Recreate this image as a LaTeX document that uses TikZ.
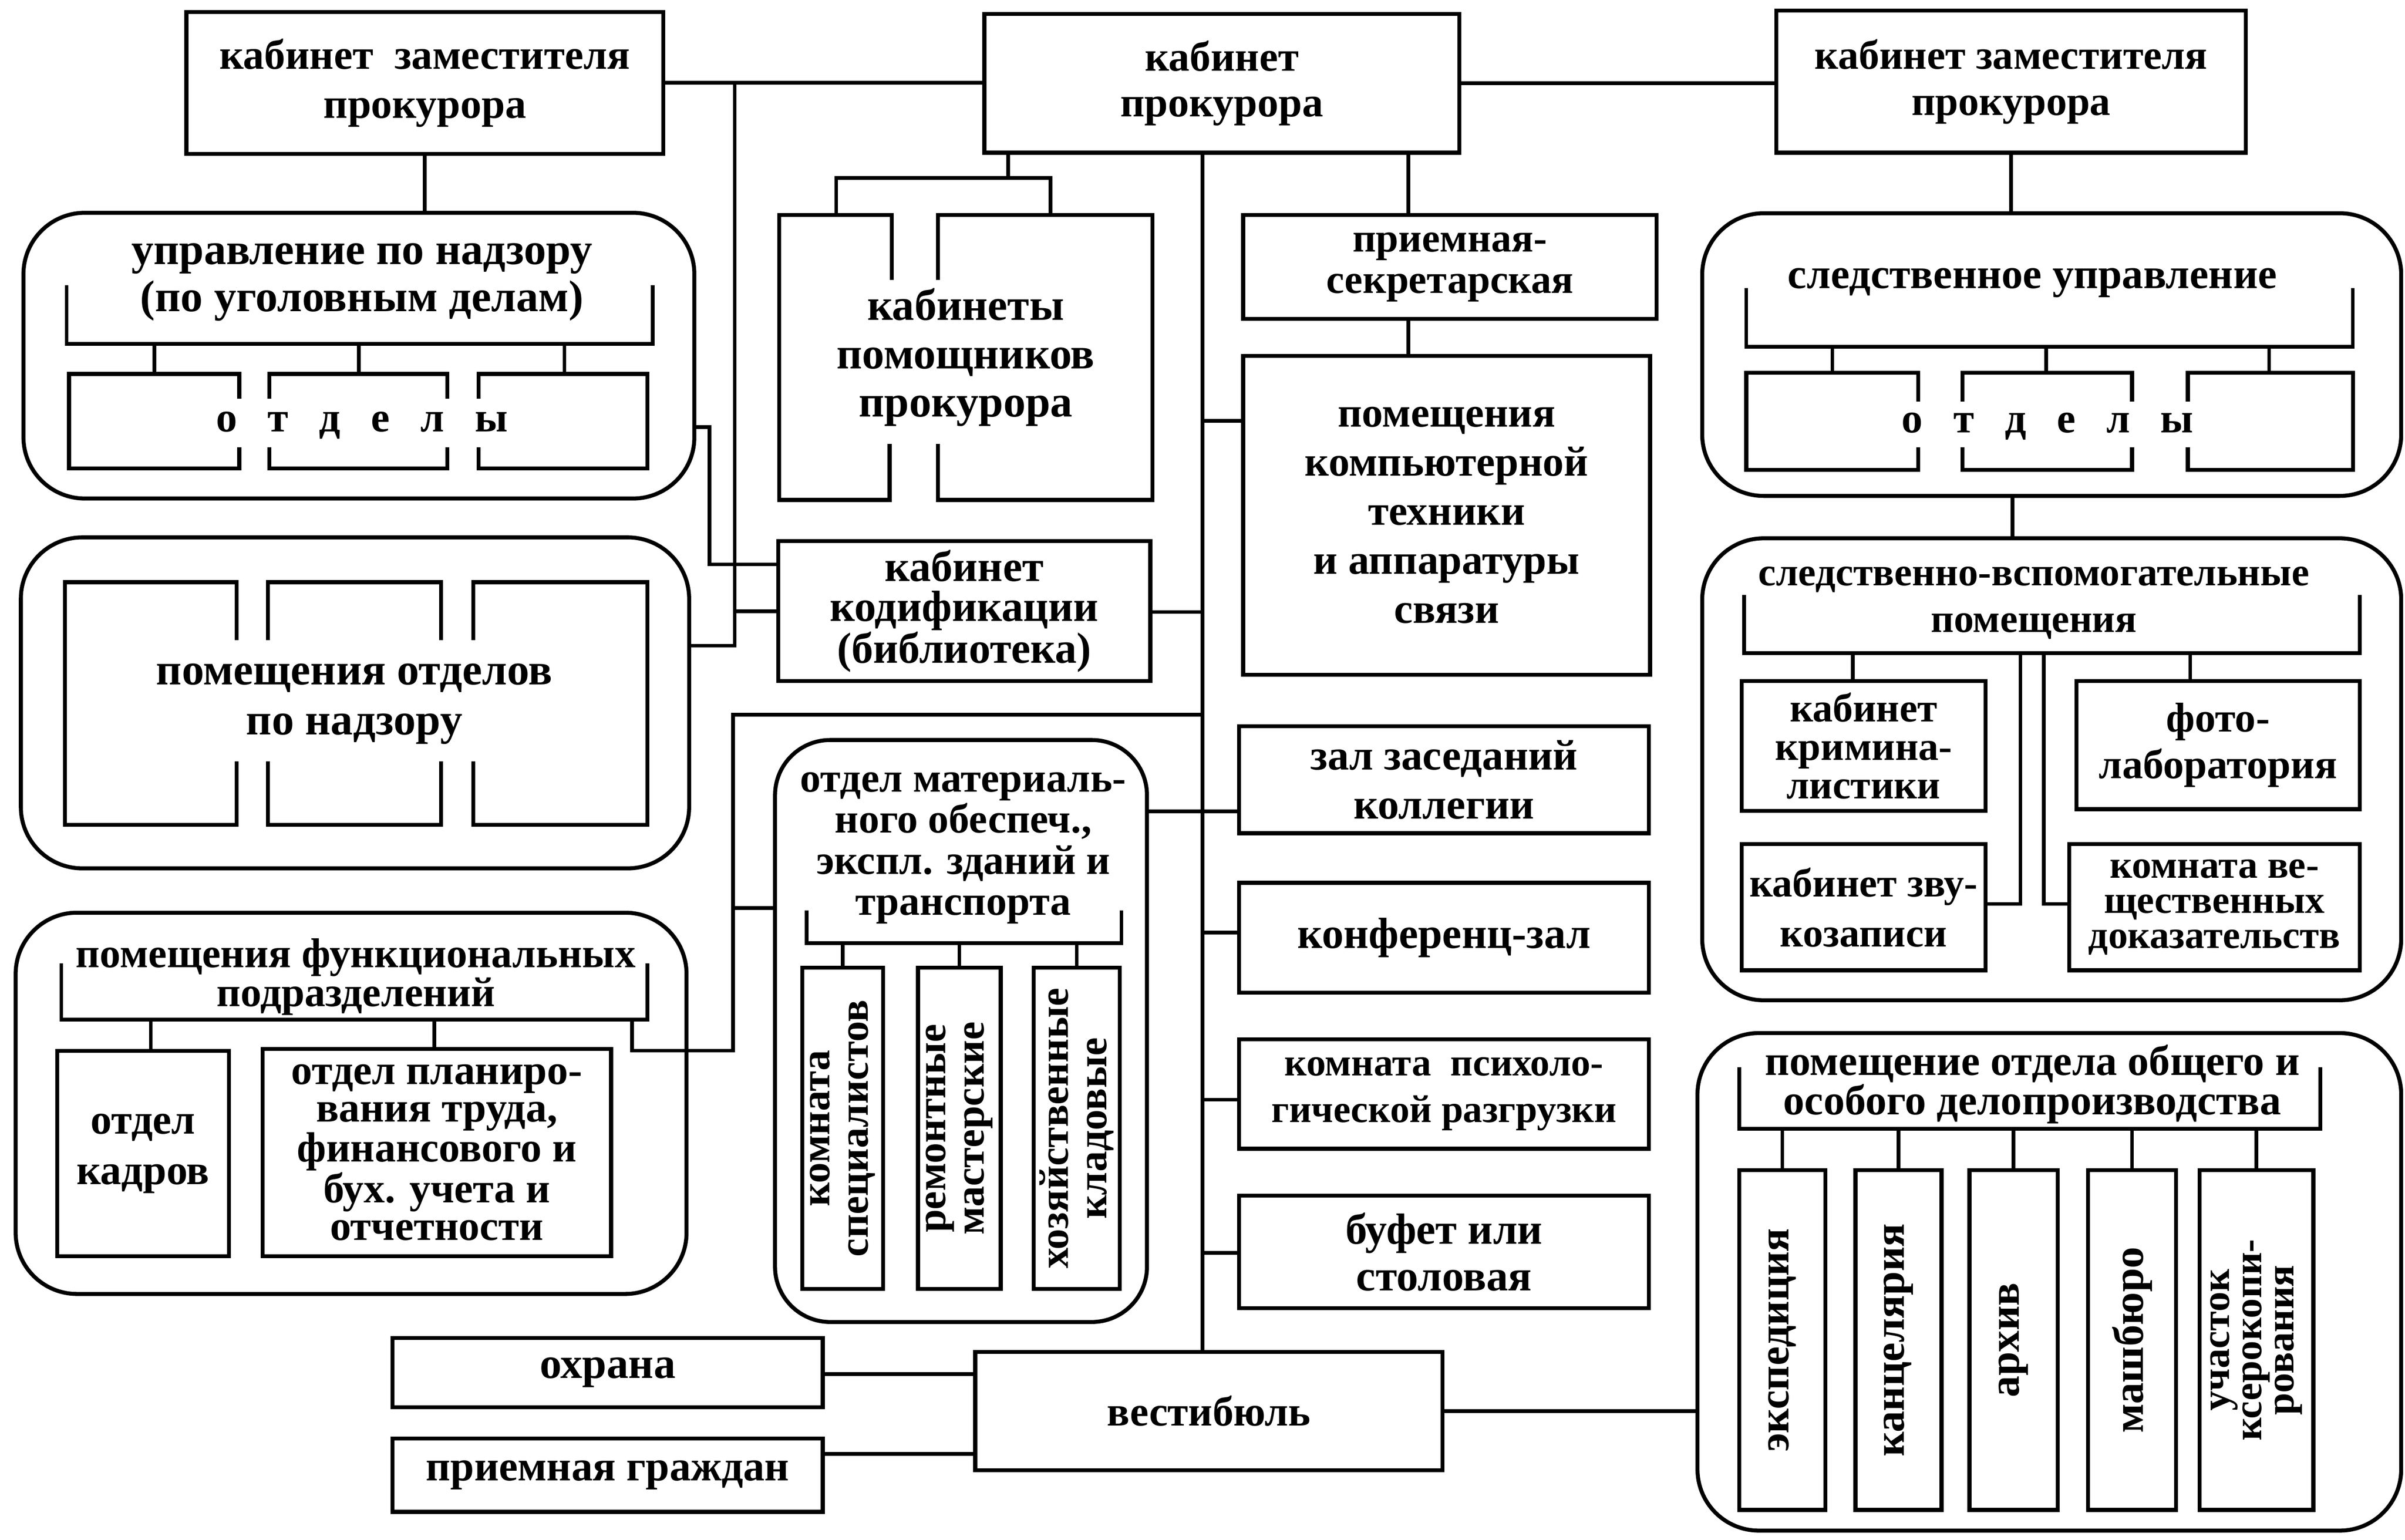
\documentclass[tikz,border=0pt]{standalone}
\usepackage{fontspec}
\setmainfont{Liberation Serif}
\newcommand\fs[2]{\fontsize{#1}{#2}\selectfont\bfseries}
\tikzset{
  box/.style={draw, line width=2.6pt, inner sep=0pt, outer sep=0pt, align=center, font=\fs{27.5}{32}},
  rbox/.style={draw, line width=2.6pt, rounded corners=40pt, inner sep=0pt, outer sep=0pt},
  lbl/.style={inner sep=0pt, outer sep=0pt, align=center, font=\fs{27.5}{32}},
  ln/.style={line width=2.6pt},
  con/.style={line width=2.4pt},
}
\begin{document}
\begin{tikzpicture}[x=1pt,y=-1pt]
\fill[white] (0,0) rectangle (1568,1004);
\useasboundingbox (0,0) rectangle (1568,1004);

% ---------- top row
\node[box, minimum width=311pt, minimum height=92.5pt, font=\fs{27.5}{32}] (zl) at (277,54) {кабинет\ \ заместителя\\прокурора};
\node[box, minimum width=309.7pt, minimum height=90.5pt, font=\fs{27.5}{30}] (kp) at (796.6,54.3) {кабинет\\прокурора};
\node[box, minimum width=306pt, minimum height=92.7pt, font=\fs{27}{30}] (zr) at (1311.2,53.2) {кабинет заместителя\\прокурора};

% ---------- rounded containers
\node[rbox, minimum width=437.4pt, minimum height=186.3pt] (upr) at (234,231.9) {};
\node[rbox, minimum width=435.7pt, minimum height=215.8pt] (pon) at (231.45,458.3) {};
\node[rbox, minimum width=437.4pt, minimum height=248.6pt] (fun) at (228.9,719.4) {};
\node[rbox, rounded corners=36pt, minimum width=242.5pt, minimum height=379.5pt] (mat) at (626.55,672.25) {};
\node[rbox, minimum width=455.7pt, minimum height=184.3pt] (slr) at (1337.65,231.2) {};
\node[rbox, minimum width=455.7pt, minimum height=301.2pt] (svp) at (1337.65,501.6) {};
\node[rbox, minimum width=458.8pt, minimum height=324.4pt] (obsh) at (1336.1,835.8) {};

% ---------- titles inside containers
\node[lbl, font=\fs{29}{31}] (uprT) at (236,184) {управление по надзору\\(по уголовным делам)};
\node[lbl] (uprO) at (236,277.4) {о\hspace{20pt}т\hspace{20pt}д\hspace{20pt}е\hspace{20pt}л\hspace{20pt}ы};
\node[lbl, font=\fs{27.8}{32}] (slrT) at (1325,184.3) {следственное управление};
\node[lbl] (slrO) at (1335,278) {о\hspace{20pt}т\hspace{20pt}д\hspace{20pt}е\hspace{20pt}л\hspace{20pt}ы};
\node[lbl, font=\fs{29}{32.5}] (ponT) at (231,459) {помещения отделов\\по надзору};
\node[lbl, font=\fs{27.2}{20.5}] (funT) at (232,637) {помещения функциональных\\подразделений};
\node[lbl, font=\fs{27}{26.8}] (matT) at (628,553) {отдел материаль-\\ного обеспеч.,\\экспл. зданий и\\транспорта};
\node[lbl, font=\fs{26}{30.4}] (svpT) at (1326,393) {следственно-вспомогательные\\помещения};
\node[lbl, font=\fs{27.7}{20}] (obshT) at (1325,707) {помещение отдела общего и\\особого делопроизводства};

% ---------- central column
\node[lbl, minimum width=243.3pt, minimum height=185.8pt, font=\fs{29}{31.5}] (kpom) at (629.65,233.1) {кабинеты\\помощников\\прокурора};
\node[box, minimum width=269.5pt, minimum height=67.8pt, font=\fs{26.5}{27}] (pr) at (945.25,174.1) {приемная-\\секретарская};
\node[box, minimum width=265.3pt, minimum height=208pt, font=\fs{27.5}{32}] (comp) at (943.15,336) {помещения\\компьютерной\\техники\\и аппаратуры\\связи};
\node[box, minimum width=242.7pt, minimum height=91.2pt, font=\fs{28.4}{26}] (kod) at (628.65,398.4) {кабинет\\кодификации\\(библиотека)};
\node[box, minimum width=267.1pt, minimum height=69.8pt, font=\fs{27.9}{32}] (zal) at (941.45,508.4) {зал заседаний\\коллегии};
\node[box, minimum width=267.1pt, minimum height=71.6pt, font=\fs{28.4}{32}] (konf) at (941.45,611.4) {конференц-зал};
\node[box, minimum width=267.1pt, minimum height=71.4pt, font=\fs{25.3}{30.5}] (psy) at (941.45,713.3) {комната\ \ психоло-\\гической разгрузки};
\node[box, minimum width=267.1pt, minimum height=73.4pt, font=\fs{28.4}{30.4}] (buf) at (941.45,816.3) {буфет или\\столовая};
\node[box, minimum width=304.7pt, minimum height=77pt, font=\fs{27.4}{32}] (vest) at (788.15,920.1) {вестибюль};
\node[box, minimum width=280.4pt, minimum height=45.1pt, font=\fs{28.5}{32}] (ohr) at (396.2,894.95) {охрана};
\node[box, minimum width=280.4pt, minimum height=47.8pt, font=\fs{27.8}{32}] (prg) at (396.2,961.9) {приемная граждан};

% ---------- functional units
\node[box, minimum width=111.9pt, minimum height=133.9pt, font=\fs{27.6}{32.8}] (kadr) at (93.25,752.25) {отдел\\кадров};
\node[box, minimum width=227.2pt, minimum height=135pt, font=\fs{27.5}{24.6}] (plan) at (284.8,751.5) {отдел планиро-\\вания труда,\\финансового и\\бух. учета и\\отчетности};

% ---------- material dept rooms
\node[box, minimum width=52.7pt, minimum height=209.5pt] (m1) at (549.35,735.75) {};
\node[box, minimum width=53.9pt, minimum height=209.5pt] (m2) at (625.45,735.75) {};
\node[box, minimum width=56pt, minimum height=209.5pt] (m3) at (702,735.75) {};
\node[lbl, rotate=90, font=\fs{27}{25}] (m1t) at (m1.center) {комната\\специалистов};
\node[lbl, rotate=90, font=\fs{27}{25}] (m2t) at (m2.center) {ремонтные\\мастерские};
\node[lbl, rotate=90, font=\fs{27}{25}] (m3t) at (m3.center) {хозяйственные\\кладовые};

% ---------- investigative auxiliary rooms
\node[box, minimum width=159.1pt, minimum height=84.7pt, font=\fs{26.4}{25}] (krim) at (1215.05,486.35) {кабинет\\кримина-\\листики};
\node[box, minimum width=184.8pt, minimum height=83.6pt, font=\fs{27.1}{30.4}] (foto) at (1446.1,485.8) {фото-\\лаборатория};
\node[box, minimum width=159.1pt, minimum height=82.3pt, font=\fs{26.4}{32.6}] (zvuk) at (1215.05,591.55) {кабинет зву-\\козаписи};
\node[box, minimum width=189.5pt, minimum height=82.3pt, font=\fs{25.5}{23}] (vesh) at (1443.75,591.55) {комната ве-\\щественных\\доказательств};

% ---------- general office rooms
\node[box, minimum width=56pt, minimum height=221.5pt] (e1) at (1162,873.75) {};
\node[box, minimum width=56.1pt, minimum height=221.5pt] (e2) at (1237.75,873.75) {};
\node[box, minimum width=57.6pt, minimum height=221.5pt] (e3) at (1312.8,873.75) {};
\node[box, minimum width=57.5pt, minimum height=221.5pt] (e4) at (1390.05,873.75) {};
\node[box, minimum width=74.2pt, minimum height=221.5pt] (e5) at (1471.1,873.75) {};
\node[lbl, rotate=90, font=\fs{28}{28}] (e1t) at (e1.center) {экспедиция};
\node[lbl, rotate=90, font=\fs{28}{28}] (e2t) at (e2.center) {канцелярия};
\node[lbl, rotate=90, font=\fs{28}{28}] (e3t) at (e3.center) {архив};
\node[lbl, rotate=90, font=\fs{28}{28}] (e4t) at (e4.center) {машбюро};
\node[lbl, rotate=90, font=\fs{26}{21}] (e5t) at (e5.center) {участок\\ксерокопи-\\рования};

% ---------- gapped room outlines
% assistants' offices
\draw[ln] (581.3,182.4) -- (581.3,140.2) -- (508,140.2) -- (508,326) -- (580,326) -- (580,289.5);
\draw[ln] (611.6,182.4) -- (611.6,140.2) -- (751.3,140.2) -- (751.3,326) -- (611.5,326) -- (611.5,289.5);
% departments of supervision administration
\draw[ln] (156,260) -- (156,243.8) -- (45,243.8) -- (45,305.5) -- (156,305.5) -- (156,291.5);
\draw[ln] (175.7,260) -- (175.7,243.8) -- (291.6,243.8) -- (291.6,260);
\draw[ln] (175.7,291.5) -- (175.7,305.5) -- (291.6,305.5) -- (291.6,291.5);
\draw[ln] (312,260) -- (312,243.8) -- (422,243.8) -- (422,305.5) -- (312,305.5) -- (312,291.5);
% departments of investigative administration
\draw[ln] (1250.7,262) -- (1250.7,243) -- (1138.5,243) -- (1138.5,306.4) -- (1250.7,306.4) -- (1250.7,291.7);
\draw[ln] (1279.4,262) -- (1279.4,243) -- (1390,243) -- (1390,262);
\draw[ln] (1279.4,291.7) -- (1279.4,306.4) -- (1390,306.4) -- (1390,291.7);
\draw[ln] (1426.4,262) -- (1426.4,243) -- (1534,243) -- (1534,306.4) -- (1426.4,306.4) -- (1426.4,291.7);
% rooms of supervision departments
\draw[ln] (154.3,417.3) -- (154.3,379.6) -- (42.4,379.6) -- (42.4,537.9) -- (154.3,537.9) -- (154.3,496.4);
\draw[ln] (174.6,417.3) -- (174.6,379.6) -- (287.6,379.6) -- (287.6,417.3);
\draw[ln] (174.6,496.4) -- (174.6,537.9) -- (287.6,537.9) -- (287.6,496.4);
\draw[ln] (308.6,417.3) -- (308.6,379.6) -- (422.2,379.6) -- (422.2,537.9) -- (308.6,537.9) -- (308.6,496.4);

% ---------- brackets inside containers
\draw[con] (43.4,186) -- (43.4,224.3) -- (425.6,224.3) -- (425.6,186);
\draw[con] (100.7,224.3) -- (100.7,243.8);
\draw[con] (234,224.3) -- (234,243.8);
\draw[con] (368,224.3) -- (368,243.8);
\draw[con] (1138.5,187.7) -- (1138.5,226) -- (1534,226) -- (1534,187.7);
\draw[con] (1194.6,226) -- (1194.6,243);
\draw[con] (1334,226) -- (1334,243);
\draw[con] (1479.4,226) -- (1479.4,243);
\draw[con] (40,628) -- (40,664.8) -- (422.2,664.8) -- (422.2,628);
\draw[con] (98.3,664.8) -- (98.3,0 |- kadr.north);
\draw[con] (283.2,664.8) -- (283.2,0 |- plan.north);
\draw[con] (526,593.5) -- (526,615) -- (731.2,615) -- (731.2,593.5);
\draw[con] (m1.north) -- (m1.north |- 0,615);
\draw[con] (m2.north) -- (m2.north |- 0,615);
\draw[con] (m3.north) -- (m3.north |- 0,615);
\draw[con] (1137,387.8) -- (1137,425.8) -- (1538.5,425.8) -- (1538.5,387.8);
\draw[con] (1208,425.8) -- (1208,0 |- krim.north);
\draw[con] (1428,425.8) -- (1428,0 |- foto.north);
\draw[con] (1317.3,425.8) -- (1317.3,589.4) -- (zvuk.east |- 0,589.4);
\draw[con] (1332.5,425.8) -- (1332.5,589.4) -- (vesh.west |- 0,589.4);
\draw[con] (1134,696) -- (1134,736) -- (1512.8,736) -- (1512.8,696);
\foreach \b in {e1,e2,e3,e4,e5} \draw[con] (\b.north) -- (\b.north |- 0,736);

% ---------- connectors
\draw[con] (zl.east) -- (zl.east -| kp.west);
\draw[con] (kp.east) -- (kp.east -| zr.west);
\draw[con] (zl.south) -- (zl.south |- upr.north);
\draw[con] (zr.south) -- (zr.south |- slr.north);
\draw[con] (1312,0 |- slr.south) -- (1312,0 |- svp.north);
\draw[con] (479,54) -- (479,421) -- (pon.east |- 0,421);
\draw[con] (479,398.5) -- (kod.west |- 0,398.5);
\draw[con] (upr.east |- 0,278.5) -- (462.5,278.5) -- (462.5,368) -- (kod.west |- 0,368);
\draw[con] (657.2,0 |- kp.south) -- (657.2,116);
\draw[con] (545.2,0 |- kpom.north) -- (545.2,116) -- (684.9,116) -- (684.9,0 |- kpom.north);
\draw[con] (918.3,0 |- kp.south) -- (918.3,0 |- pr.north);
\draw[con] (918.3,0 |- pr.south) -- (918.3,0 |- comp.north);
\draw[con] (784,0 |- kp.south) -- (784,0 |- vest.north);
\draw[con] (784,274.4) -- (comp.west |- 0,274.4);
\draw[con] (784,399) -- (kod.east |- 0,399);
\draw[con] (784,466) -- (478,466) -- (478,685) -- (412,685) -- (412,664.8);
\draw[con] (478,592) -- (mat.west |- 0,592);
\draw[con] (mat.east |- 0,529) -- (zal.west |- 0,529);
\draw[con] (784,608) -- (konf.west |- 0,608);
\draw[con] (784,717) -- (psy.west |- 0,717);
\draw[con] (784,817) -- (buf.west |- 0,817);
\draw[con] (ohr.east |- 0,896) -- (vest.west |- 0,896);
\draw[con] (prg.east |- 0,948) -- (vest.west |- 0,948);
\draw[con] (vest.east) -- (vest.east -| obsh.west);
\end{tikzpicture}
\end{document}
